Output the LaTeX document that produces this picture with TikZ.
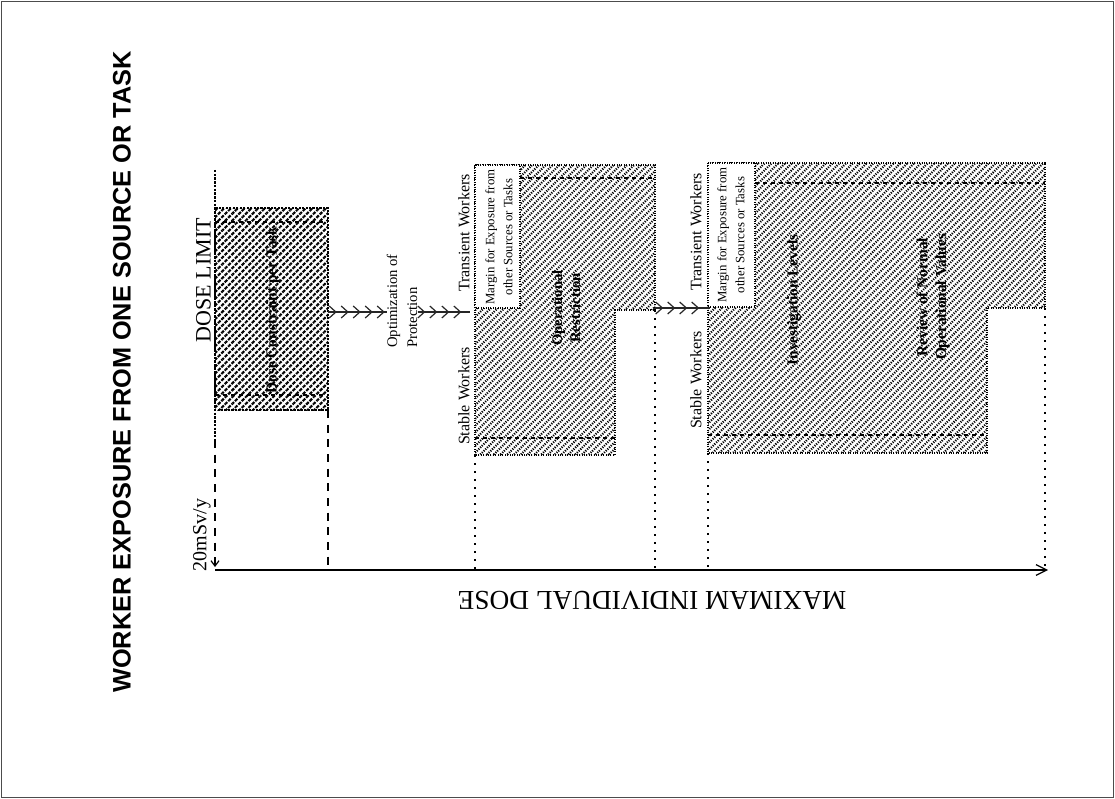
\documentclass[tikz,border=0pt]{standalone}
\usepackage{fontspec}
\setmainfont{Liberation Serif}
\newfontfamily\headfont{Liberation Sans}
\usetikzlibrary{arrows.meta, positioning, patterns.meta, decorations.markings}

\begin{document}
\begin{tikzpicture}[
    x=0.75pt, y=-0.75pt,
    every node/.style={inner sep=0pt},
    vlabel/.style={rotate=90, align=center},
    inlabel/.style={vlabel, font=\bfseries\fontsize{11.5}{14}\selectfont},
    worker/.style={vlabel, font=\fontsize{12}{14}\selectfont},
    marginlabel/.style={vlabel, font=\fontsize{9.6}{13.5}\selectfont},
    hatch/.style={pattern={Lines[angle=45, distance=3.6pt, line width=1.6pt]},
                  draw=black, densely dotted, line width=0.8pt},
    margin/.style={fill=white, draw=black, densely dotted, line width=0.8pt},
    level/.style={draw=black, dashed, line width=1pt},
    guide/.style={draw=black, line width=1.2pt, dash pattern=on 1.5pt off 4.5pt},
    chevrons/.style={draw=black!85, line width=0.8pt, postaction={decorate},
        decoration={markings, mark=between positions 0.15 and 1 step 9pt
          with {\arrow[line width=0.9pt]{Straight Barb[length=5pt, width=9pt]}}}},
    axis/.style={draw=black, line width=0.9pt}
  ]
  \useasboundingbox (0,0) rectangle (1115,799);
  \draw[black!70, line width=0.8pt] (1.5,1.5) rectangle (1113.5,797.5);

  % --- title ---
  \node[vlabel, font=\headfont\bfseries\fontsize{19}{21}\selectfont] (title) at (122,372)
    {WORKER EXPOSURE FROM ONE SOURCE OR TASK};

  % --- hatched areas ---
  \path[hatch] (215,208) rectangle (328,410);
  \path[hatch] (475,165) -- (655,165) -- (655,310) -- (615,310) -- (615,455) -- (475,455) -- cycle;
  \path[margin] (475,165) rectangle (520,308);
  \path[hatch] (708,163) -- (1045,163) -- (1045,308) -- (987,308) -- (987,453) -- (708,453) -- cycle;
  \path[margin] (708,163) rectangle (755,307);

  % --- levels inside the areas ---
  \draw[level] (215,222) -- (328,222);
  \draw[level] (215,395) -- (328,395);
  \draw[level] (520,178) -- (655,178);
  \draw[level] (475,438) -- (615,438);
  \draw[level] (755,183) -- (1045,183);
  \draw[level] (708,435) -- (987,435);

  % --- axes ---
  \coordinate (origin) at (215,570);
  \coordinate (tip) at (1048,570);
  \coordinate (limtop) at (215,170);
  \coordinate (limend) at (215,440);
  \draw[line width=1.8pt, densely dotted] (limtop) -- (limend);
  \draw[line width=0.9pt, dash pattern=on 6pt off 5pt, -{Straight Barb[length=4pt, width=6pt]}] (limend) -- (215,567);
  \draw[axis, -{Straight Barb[length=8pt, width=8pt]}] (origin) -- (tip);

  % --- guide lines down to the axis ---
  \draw[line width=0.9pt, dash pattern=on 6pt off 5pt] (328,410) -- (328,570);
  \draw[guide] (475,455) -- (475,570);
  \draw[guide] (655,310) -- (655,570);
  \draw[guide] (708,453) -- (708,570);
  \draw[guide] (1045,308) -- (1045,570);

  % --- labels ---
  \node[vlabel, font=\fontsize{16.5}{18}\selectfont, anchor=south] (limit) at (211,280) {DOSE LIMIT};
  \node[vlabel, font=\fontsize{15}{17}\selectfont, anchor=south] (rate) at (211,535) {20mSv/y};
  \node[rotate=180, font=\fontsize{20.5}{22}\selectfont] (xlabel) at (652,600) {MAXIMAM INDIVIDUAL DOSE};

  \node[inlabel] (constraint) at (273,310) {Dose Constraint per Task};
  \node[inlabel, font=\bfseries\fontsize{11}{13.5}\selectfont] (restrict) at (566,308) {Operational\\Restriction};
  \node[inlabel] (invest) at (794,300) {Investigation Levels};
  \node[inlabel] (review) at (933,297) {Review of Normal\\Operational Values};

  \node[worker] (trans2) at (464,233) {Transient Workers};
  \node[worker] (stable2) at (464,396) {Stable Workers};
  \node[worker] (trans3) at (696,232) {Transient Workers};
  \node[worker] (stable3) at (696,380) {Stable Workers};

  \node[marginlabel] (margin2) at (499,237) {Margin for Exposure from\\other Sources or Tasks};
  \node[marginlabel] (margin3) at (731,235) {Margin for Exposure from\\other Sources or Tasks};

  \node[vlabel, align=left, font=\fontsize{11}{15}\selectfont] (optim) at (402,301)
    {Optimization of\\Protection};

  % --- optimisation steps ---
  \coordinate (box1out) at (328,312);
  \coordinate (box2in) at (470,312);
  \coordinate (box2out) at (655,308);
  \coordinate (box3in) at (710,308);
  \draw[chevrons] (box1out) -- (optim.north |- box1out);
  \draw[chevrons] (optim.south |- box1out) -- (box2in);
  \draw[chevrons] (box2out) -- (box3in);
\end{tikzpicture}
\end{document}
